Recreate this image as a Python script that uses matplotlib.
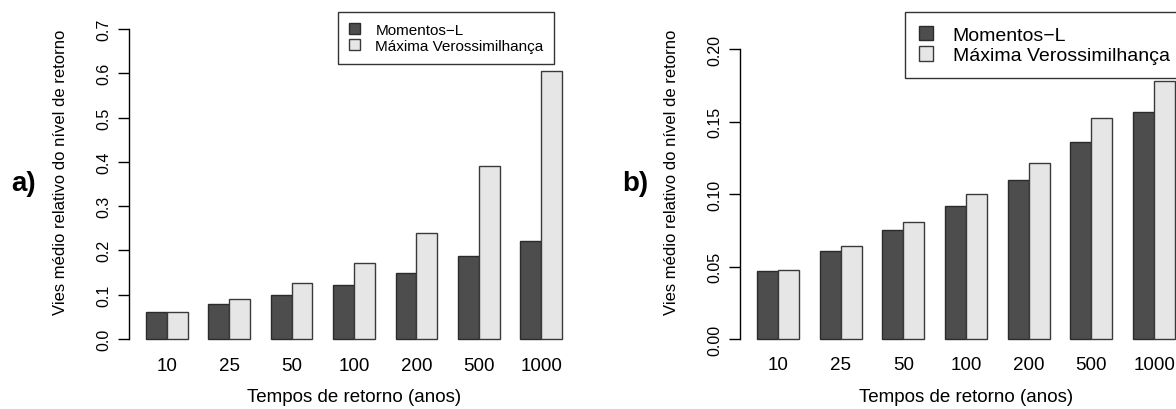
import numpy as np
import matplotlib
matplotlib.use("Agg")
import matplotlib.pyplot as plt
from matplotlib.patches import Patch

plt.rcParams['font.family'] = ['Liberation Sans', 'DejaVu Sans']

# tempos de retorno e vies medio relativo do nivel de retorno
tempos = ['10', '25', '50', '100', '200', '500', '1000']
series = ['Momentos\u2212L', 'Máxima Verossimilhança']

vies_a_ml = [0.060, 0.079, 0.099, 0.123, 0.149, 0.188, 0.221]
vies_a_mv = [0.061, 0.091, 0.126, 0.172, 0.240, 0.391, 0.606]

vies_b_ml = [0.0471, 0.0607, 0.0752, 0.0915, 0.1097, 0.1356, 0.1563]
vies_b_mv = [0.0476, 0.0639, 0.0805, 0.1000, 0.1211, 0.1522, 0.1779]

cores = ['#4d4d4d', '#e6e6e6']

W, H = 1176, 410
fig = plt.figure(figsize=(W / 100, H / 100), dpi=100)


def caixa(left, right, top, bottom):
    # pixels -> fracao da figura
    return [left / W, (H - bottom) / H, (right - left) / W, (bottom - top) / H]


def painel(pos, ml, mv, ymax, yticks, fmt, leg_box, leg_fs):
    ax = fig.add_axes(pos)
    centros = np.arange(len(tempos)) * 3 + 2
    ax.bar(centros - 0.5, ml, width=1, color=cores[0], edgecolor='#2b2b2b', linewidth=1.0)
    ax.bar(centros + 0.5, mv, width=1, color=cores[1], edgecolor='#3a3a3a', linewidth=1.0)
    ax.set_xlim(0.2, 21.8)
    ax.set_ylim(-0.04 * ymax, 1.04 * ymax)
    for s in ['top', 'right', 'bottom']:
        ax.spines[s].set_visible(False)
    ax.spines['left'].set_bounds(0, ymax)
    ax.spines['left'].set_linewidth(1.0)
    ax.set_yticks(yticks)
    ax.set_yticklabels([fmt % v for v in yticks], rotation=90, va='center', fontsize=11.5)
    ax.tick_params(axis='y', length=8, width=1.0, pad=5)
    ax.set_xticks(centros)
    ax.set_xticklabels(tempos, fontsize=13.5)
    ax.tick_params(axis='x', length=0, pad=4)
    handles = [Patch(facecolor=cores[0], edgecolor='#2b2b2b'),
               Patch(facecolor=cores[1], edgecolor='#3a3a3a')]
    lx, ly = leg_box
    leg = ax.legend(handles, series, loc='upper left',
                    bbox_to_anchor=(lx / W, 1 - ly / H), bbox_transform=fig.transFigure,
                    fontsize=leg_fs, frameon=True, fancybox=False, borderaxespad=0,
                    handlelength=0.75, handleheight=0.75, handletextpad=1.0,
                    labelspacing=0.15, borderpad=0.7)
    leg.get_frame().set_edgecolor('black')
    leg.get_frame().set_linewidth(1.0)
    return ax


painel(caixa(129.4, 578.6, 17.5, 352.4), vies_a_ml, vies_a_mv, 0.7,
       [0.0, 0.1, 0.2, 0.3, 0.4, 0.5, 0.6, 0.7], '%.1f', (338, 13), 11)
painel(caixa(740.3, 1191.7, 38.4, 351.6), vies_b_ml, vies_b_mv, 0.2,
       [0.00, 0.05, 0.10, 0.15, 0.20], '%.2f', (905, 13), 14)

ylab = 'Vies médio relativo do nível de retorno'
xlab = 'Tempos de retorno (anos)'
fig.text(61 / W, 1 - 172 / H, ylab, rotation=90, ha='center', va='center', fontsize=12)
fig.text(671 / W, 1 - 172 / H, ylab, rotation=90, ha='center', va='center', fontsize=12)
fig.text(354 / W, 1 - 398 / H, xlab, ha='center', va='center', fontsize=13.5)
fig.text(966 / W, 1 - 398 / H, xlab, ha='center', va='center', fontsize=13.5)
fig.text(24 / W, 1 - 184 / H, 'a)', ha='center', va='center', fontsize=20, fontweight='bold')
fig.text(635 / W, 1 - 184 / H, 'b)', ha='center', va='center', fontsize=20, fontweight='bold')

fig.savefig('out.png', dpi=100)
